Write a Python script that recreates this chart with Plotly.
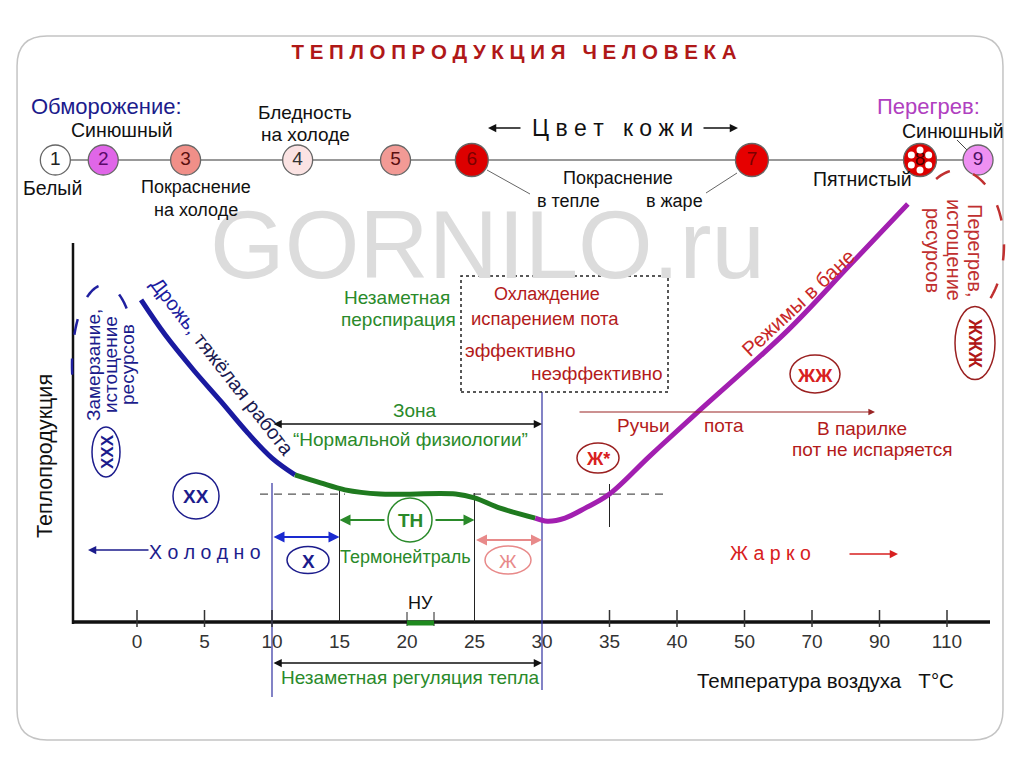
import numpy as np
import plotly.graph_objects as go

FONT = "Liberation Sans, Arial, sans-serif"

# uneven temperature axis: one tick per step
tick_temps = [0, 5, 10, 15, 20, 25, 30, 35, 40, 50, 70, 90, 110]
# temperatures that carry a tick mark (the others are marked by zone lines)
marked_temps = [0, 5, 10, 35, 40, 50, 70, 90, 110]

# heat production curve (arbitrary units), split by colour zone
cold_t = [0.3, 2.1, 4.2, 6.2, 8.2, 10.0, 11.7]
cold_q = [84.3, 75.1, 65.9, 57.8, 49.5, 42.9, 38.5]
neutral_t = [11.7, 13.6, 15.4, 18.0, 23.6, 25.0, 26.9, 29.5]
neutral_q = [38.5, 36.4, 34.6, 33.5, 33.5, 32.5, 29.8, 27.2]
hot_t = [29.5, 30.4, 31.7, 33.2, 35.0, 38.0, 43.1, 62.9, 81.3, 98.4]
hot_q = [27.2, 26.4, 27.2, 29.8, 33.5, 43.5, 55.0, 76.4, 93.5, 109.4]
neutral_level = 33.5

# zone boundaries, °C
zone_cold = [10, 15]
zone_neutral = [15, 25]
zone_warm = [25, 30]
zone_normal = [10, 30]
zone_nu = [20, 22]
sweat_start = 35

# skin colour scale (position on the axis scale)
skin_labels = ["1", "2", "3", "4", "5", "6", "7", "8", "9"]
skin_u = [-1.21, -0.5, 0.72, 2.38, 3.83, 4.96, 9.11, 11.6, 12.46]
skin_fill = ["#ffffff", "#e066e8", "#f08f88", "#fbe3e3", "#f29a95",
             "#dd0000", "#e60000", "#dd0000", "#ee90f2"]
skin_text = ["#222222", "#5a0a6a", "#5a1010", "#333333", "#5a1010",
             "#7a0000", "#7a0000", "#4a0000", "#4a1060"]

NAVY = "#1c1c8c"
BLUE = "#1a1aa0"
GREEN = "#2a8a2a"
DRED = "#b31b1b"
RED = "#d82020"
PINK = "#e88a8a"
VIOLET = "#b040c0"
PURPLE = "#a21fb0"

# the page sits 8px in from the window corner
OFF = 8
W, H = 1024 - OFF, 767 - OFF


def t2u(t):
    if np.ndim(t) == 0:
        if t < tick_temps[0]:
            return (t - tick_temps[0]) / 5.0
        return float(np.interp(t, tick_temps, np.arange(len(tick_temps))))
    return [t2u(v) for v in t]


# placement helpers (axis units are linear in screen pixels)
def X(px):
    return (px - 137) / 67.5


def Y(py):
    return (622 - py) / 3.82


fig = go.Figure()

for ts, qs, col in [(cold_t, cold_q, BLUE), (neutral_t, neutral_q, "#1f7a1f"),
                    (hot_t, hot_q, PURPLE)]:
    fig.add_trace(go.Scatter(x=t2u(ts), y=qs, mode="lines",
                             line=dict(color=col, width=5, shape="spline", smoothing=1.0),
                             hoverinfo="skip", cliponaxis=False))

strip_y = Y(160)
fig.add_trace(go.Scatter(
    x=skin_u, y=[strip_y] * len(skin_u), mode="markers+text",
    text=skin_labels, textposition="middle center",
    textfont=dict(family=FONT, size=19, color=skin_text),
    marker=dict(size=[30, 30, 30, 30, 30, 33, 33, 33, 30], color=skin_fill, opacity=1,
                line=dict(color="#666666", width=1.3)),
    hoverinfo="skip", cliponaxis=False))

ann = []
shapes = []


def txt(px, py, s, size=19, color="#111111", angle=0, xanchor="center", family=FONT):
    ann.append(dict(x=X(px), y=Y(py), xref="x", yref="y", text=s, showarrow=False,
                    font=dict(family=family, size=size, color=color), textangle=angle,
                    xanchor=xanchor, yanchor="middle"))


def arrow(x0, y0, x1, y1, color="#111111", both=False, width=1.5, size=1.1):
    ann.append(dict(x=x1, y=y1, ax=x0, ay=y0, xref="x", yref="y", axref="x", ayref="y",
                    text="", showarrow=True, arrowhead=2, startarrowhead=2,
                    arrowsize=size, startarrowsize=size, arrowwidth=width,
                    arrowcolor=color, arrowside="end+start" if both else "end",
                    standoff=0, startstandoff=0))


def line(x0, y0, x1, y1, color="#111111", width=1.2, dash="solid", layer="below"):
    shapes.append(dict(type="line", xref="x", yref="y", x0=x0, y0=y0, x1=x1, y1=y1,
                       line=dict(color=color, width=width, dash=dash), layer=layer))


def ellipse(cx, cy, w, h, color, width=1.5):
    shapes.append(dict(type="circle", xref="x", yref="y",
                       x0=X(cx - w / 2), x1=X(cx + w / 2), y0=Y(cy + h / 2), y1=Y(cy - h / 2),
                       line=dict(color=color, width=width), fillcolor="rgba(0,0,0,0)"))


def arc(cx, cy, rx, ry, a0, a1, color, width=2.5):
    angs = np.radians(np.linspace(a0, a1, 80))
    pts = [f"{X(cx + rx * np.cos(a)):.4f},{Y(cy - ry * np.sin(a)):.4f}" for a in angs]
    shapes.append(dict(type="path", xref="x", yref="y", path="M " + " L ".join(pts),
                       line=dict(color=color, width=width, dash="16px,24px")))


# slide frame
def P(px, py):
    return f"{(px - OFF) / W:.4f},{1 - (py - OFF) / H:.4f}"


L, R, T, B, r = 17, 1003, 36, 740, 30
frame = (f"M {P(L + r, T)} L {P(R - r, T)} Q {P(R, T)} {P(R, T + r)} "
         f"L {P(R, B - r)} Q {P(R, B)} {P(R - r, B)} L {P(L + r, B)} "
         f"Q {P(L, B)} {P(L, B - r)} L {P(L, T + r)} Q {P(L, T)} {P(L + r, T)} Z")
shapes.append(dict(type="path", xref="paper", yref="paper", path=frame,
                   line=dict(color="#c4c4c4", width=1.5), layer="below"))

# watermark
txt(487, 244, "GORNILO.ru", 96, "#dcdcdc")

# ---- skin colour strip ----
line(X(55), strip_y, X(978), strip_y, "#777777", 1.5)
c8x, c8y = X(920), strip_y
for k in range(6):
    a = np.radians(90 + 60 * k)
    shapes.append(dict(type="circle", xref="x", yref="y", xsizemode="pixel", ysizemode="pixel",
                       xanchor=c8x, yanchor=c8y,
                       x0=10 * np.cos(a) - 3.5, x1=10 * np.cos(a) + 3.5,
                       y0=10 * np.sin(a) - 3.5, y1=10 * np.sin(a) + 3.5,
                       fillcolor="white", line=dict(width=0), layer="above"))

txt(106, 106, "Обморожение:", 22, NAVY)
txt(122, 130, "Синюшный", 19.5)
txt(52, 188, "Белый", 19.5)
txt(196, 187, "Покраснение", 18)
txt(196, 210, "на холоде", 18)
txt(305, 112, "Бледность", 19)
txt(305, 134, "на холоде", 19)
txt(612, 128, "Ц в е т   к о ж и", 23)
arrow(X(522), Y(128), X(488), Y(128))
arrow(X(702), Y(128), X(738), Y(128))
txt(618, 178, "Покраснение", 18)
txt(568, 201, "в тепле", 18)
txt(674, 201, "в жаре", 18)
line(X(487), Y(170), X(530), Y(194), "#666666", 1)
line(X(737), Y(173), X(706), Y(193), "#666666", 1)
txt(862, 179, "Пятнистый", 19.5)
txt(928, 106, "Перегрев:", 22, VIOLET)
txt(953, 131, "Синюшный", 19.5)
line(X(957), Y(140), X(967), Y(150), "#444444", 1)

# ---- axes ----
line(X(73), Y(243), X(73), Y(624), "#111111", 2.5)
line(X(72), Y(622), X(990), Y(622), "#111111", 3.5)
for tt in marked_temps:
    line(t2u(tt), Y(610), t2u(tt), Y(627), "#333333", 1.5, layer="above")
txt(45, 456, "Теплопродукция", 21.5, angle=-90)
txt(825, 680, "Температура воздуха   T°C", 20.5)

# ---- cold side ----
arc(104, 365, 32, 80, 45, 200, "#2020a0")
txt(93, 365, "Замерзание,", 19, NAVY, angle=-90)
txt(110, 365, "истощение", 19, NAVY, angle=-90)
txt(127, 365, "ресурсов", 19, NAVY, angle=-90)
ellipse(106, 452, 28, 50, NAVY)
txt(107, 452, "<b>ХХХ</b>", 17, NAVY, angle=-90)
txt(222, 366, "<span style='color:#1c1ca0'>Дрожь,</span> тяжёлая работа", 20,
    "#1a1a50", angle=52)
ellipse(196, 496, 46, 46, NAVY)
txt(196, 496, "<b>ХХ</b>", 19, NAVY)
arrow(X(150), Y(550), X(88), Y(550), NAVY)
txt(205, 552, "Х о л о д н о", 19.5, NAVY)

# ---- zones ----
yb = Y(622)
line(t2u(zone_normal[0]), Y(483), t2u(zone_normal[0]), Y(697), "#3030a0", 1.2)
line(t2u(zone_neutral[0]), Y(490), t2u(zone_neutral[0]), yb, "#222222", 1)
line(t2u(zone_neutral[1]), Y(493), t2u(zone_neutral[1]), yb, "#222222", 1)
line(t2u(zone_normal[1]), Y(392), t2u(zone_normal[1]), Y(690), "#3030a0", 1.2)
line(t2u(sweat_start), Y(484), t2u(sweat_start), Y(527), "#222222", 1)
line(X(260), neutral_level, X(345), neutral_level, "#555555", 1.2, "8px,6px")
line(X(473), neutral_level, X(665), neutral_level, "#555555", 1.2, "8px,6px")

txt(397, 297, "Незаметная", 19, GREEN)
txt(398, 319, "перспирация", 19, GREEN)
shapes.append(dict(type="rect", xref="x", yref="y", x0=X(461), x1=X(668), y0=Y(392), y1=Y(276),
                   line=dict(color="#222222", width=1.5, dash="dot")))
txt(547, 294, "Охлаждение", 18, DRED)
txt(545, 318, "испарением пота", 18.5, DRED)
txt(463, 350, "эффективно", 19, DRED, xanchor="left")
txt(665, 373, "неэффективно", 19, DRED, xanchor="right")

txt(415, 410, "Зона", 19, GREEN)
txt(410, 439, "“Нормальной физиологии”", 19, GREEN)
arrow(t2u(zone_normal[0]), Y(424), t2u(zone_normal[1]), Y(424), both=True)

arrow(t2u(zone_cold[0]), Y(537), t2u(zone_cold[1]), Y(537), "#1a2ad0", both=True, width=2)
ellipse(308, 560, 42, 27, NAVY)
txt(308, 561, "<b>Х</b>", 19, NAVY)

ellipse(410, 520, 44, 44, GREEN)
txt(410, 520, "<b>ТН</b>", 19, GREEN)
arrow(X(386), Y(520), t2u(zone_neutral[0]), Y(520), GREEN, width=2)
arrow(X(434), Y(520), t2u(zone_neutral[1]), Y(520), GREEN, width=2)
txt(405, 557, "Термонейтраль", 18, GREEN)

arrow(t2u(zone_warm[0]), Y(540), t2u(zone_warm[1]), Y(540), PINK, both=True, width=2)
ellipse(508, 560, 46, 28, PINK)
txt(508, 561, "Ж", 19, PINK)

txt(420, 603, "НУ", 18)
line(t2u(zone_nu[0]), Y(612), t2u(zone_nu[0]), Y(626), "#222222", 1, layer="above")
line(t2u(zone_nu[1]), Y(612), t2u(zone_nu[1]), Y(626), "#222222", 1, layer="above")
line(t2u(zone_nu[0]), Y(623), t2u(zone_nu[1]), Y(623), "#1f8a1f", 5, layer="above")

arrow(t2u(zone_normal[0]), Y(663), t2u(zone_normal[1]), Y(663), both=True)
txt(410, 677, "Незаметная регуляция тепла", 19, GREEN)

# ---- hot side ----
arrow(X(578), Y(412), X(875), Y(412), "#9a2525", width=1.2)
txt(643, 425, "Ручьи", 19, DRED)
txt(724, 425, "пота", 19, DRED)
txt(862, 428, "В парилке", 19, DRED)
txt(872, 449, "пот не испаряется", 19, DRED)
ellipse(815, 374, 50, 38, "#9a2020")
txt(815, 375, "<b>ЖЖ</b>", 19, RED)
ellipse(598, 458, 42, 30, "#9a2020")
txt(598, 459, "<b>Ж*</b>", 18, RED)
txt(798, 302, "Режимы в бане", 20.5, "#c82828", angle=-43)
txt(770, 553, "Ж а р к о", 19.5, RED)
arrow(X(848), Y(554), X(898), Y(554), RED)

arc(958, 245, 46, 75, -45, 140, "#c03030")
txt(975, 250, "Перегрев,", 20, "#c03030", angle=90)
txt(954, 250, "истощение", 20, "#c03030", angle=90)
txt(933, 250, "ресурсов", 20, "#c03030", angle=90)
ellipse(975, 343, 40, 73, "#9a2020")
txt(975, 343, "<b>ЖЖЖ</b>", 18, "#b01818", angle=90)

fig.update_layout(
    width=W, height=H,
    margin=dict(l=0, r=0, t=0, b=0),
    paper_bgcolor="white", plot_bgcolor="white",
    showlegend=False,
    title=dict(text="<b>Т Е П Л О П Р О Д У К Ц И Я   Ч Е Л О В Е К А</b>",
               x=(514 - OFF) / W, xanchor="center", y=1 - (52 - OFF) / H, yanchor="middle",
               font=dict(family=FONT, size=20.5, color="#b01818")),
    xaxis=dict(domain=[0, 1], range=[X(OFF), X(1024)], anchor="free",
               position=1 - (622 - OFF) / H,
               tickvals=list(range(len(tick_temps))), ticktext=[str(t) for t in tick_temps],
               ticks="", tickfont=dict(family=FONT, size=19, color="#333333"),
               ticklabelstandoff=6,
               showgrid=False, zeroline=False, showline=False, fixedrange=True),
    yaxis=dict(domain=[0, 1], range=[Y(767), Y(OFF)], visible=False, fixedrange=True),
    annotations=ann,
    shapes=shapes,
)

fig.write_html("out.html")
